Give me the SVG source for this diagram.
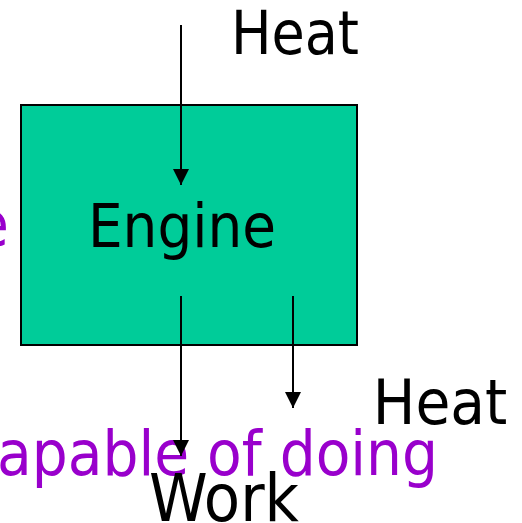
<svg xmlns="http://www.w3.org/2000/svg" width="522" height="523" viewBox="0 0 522 523">
<defs>
<style>
.t{font-family:"DejaVu Sans Condensed","DejaVu Sans",sans-serif;font-stretch:condensed;font-size:60px}
.k{fill:#000}
.p{fill:#9900CC;font-size:63px}
.c{stroke:#000;stroke-width:2;fill:none}
</style>
<marker id="ah" viewBox="0 0 16 16" refX="16" refY="8" markerWidth="16" markerHeight="16" markerUnits="userSpaceOnUse" orient="auto">
<path d="M0,0L16,8L0,16Z" fill="#000"/>
</marker>
</defs>
<rect width="522" height="523" fill="#fff"/>
<g id="bgtext">
<text class="t p" x="9" y="246" text-anchor="end">e</text>
</g>
<g id="engine">
<rect x="21" y="105" width="336" height="240" fill="#00CC99" stroke="#000" stroke-width="2"/>
<text class="t k" x="182" y="247" text-anchor="middle" style="font-size:61px">Engine</text>
</g>
<g id="heat-in"><text class="t k" x="295" y="54" text-anchor="middle">Heat</text></g>
<g id="heat-out"><text class="t k" x="440" y="424" text-anchor="middle" style="font-size:63px">Heat</text></g>
<g id="caption"><text class="t p" x="438" y="475" text-anchor="end">capable of doing</text></g>
<g id="work"><text class="t k" x="224" y="521" text-anchor="middle" style="font-size:66px">Work</text></g>
<g id="connectors">
<line class="c" x1="181" y1="25" x2="181" y2="185" marker-end="url(#ah)"/>
<line class="c" x1="181" y1="296" x2="181" y2="456" marker-end="url(#ah)"/>
<line class="c" x1="293" y1="296" x2="293" y2="408" marker-end="url(#ah)"/>
</g>
</svg>
